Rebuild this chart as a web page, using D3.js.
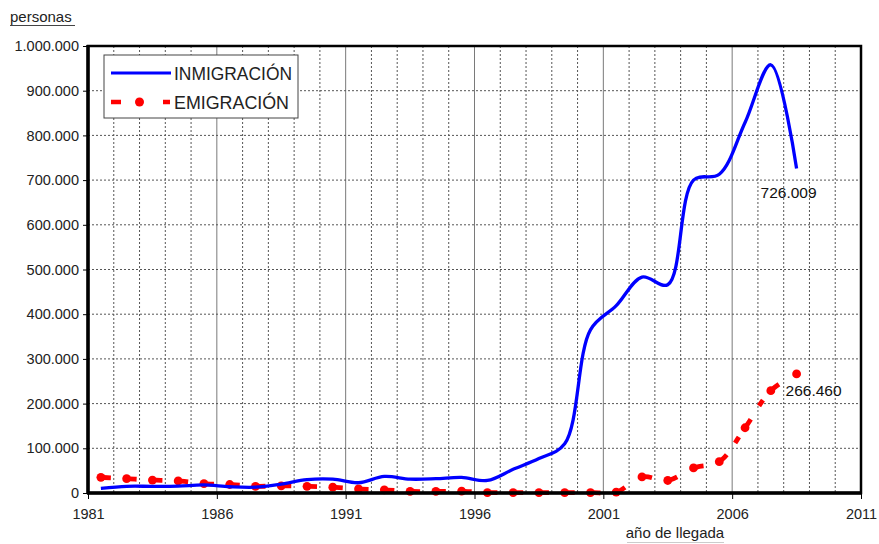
<!DOCTYPE html>
<html><head><meta charset="utf-8">
<script src="https://cdn.jsdelivr.net/npm/d3@7"></script>
<style>
body{margin:0;background:#fff;}
text{font-family:"Liberation Sans",Arial,sans-serif;}
</style>
</head><body>
<svg id="c" width="879" height="544"></svg>
<script>
// ---- data ----
const years = [1981,1982,1983,1984,1985,1986,1987,1988,1989,1990,1991,1992,1993,1994,1995,1996,1997,1998,1999,2000,2001,2002,2003,2004,2005,2006,2007,2008];
const inmigracion = [10500,15000,15000,15500,18000,14000,13000,20000,30000,31000,23000,37000,31000,32000,35000,28000,53000,77000,110000,365000,419000,483000,466000,700000,713000,829000,958000,726009];
const emigracion = [35000,32000,29000,27000,21000,19000,15000,16000,15000,13000,9000,7000,3500,3500,4000,1000,1000,1000,1000,1000,2000,36000,28000,56000,70000,146000,229000,266460];
const yTicks = [0,100000,200000,300000,400000,500000,600000,700000,800000,900000,1000000];
const xTicks = [1981,1986,1991,1996,2001,2006,2011];
const seriesNames = ["INMIGRACIÓN","EMIGRACIÓN"];
const endLabels = ["726.009","266.460"];
const yTitle = "personas";
const xTitle = "año de llegada";

// ---- layout ----
const L=88, R=861, T=46, B=493;
const svg = d3.select("#c");
const x = d3.scaleLinear().domain([1981,2011]).range([L,R]);
const y = d3.scaleLinear().domain([0,1000000]).range([B,T]);
const loc = d3.formatLocale({decimal:",",thousands:".",grouping:[3],currency:["",""]});
const fmt = loc.format(",d");

// grid
const g = svg.append("g");
const allYears = d3.range(1982,2011);
g.selectAll("line.vg").data(allYears).join("line")
  .attr("x1",d=>x(d)).attr("x2",d=>x(d)).attr("y1",T).attr("y2",B)
  .attr("stroke", d=> d%5===1 ? "#7a7a7a" : "#555")
  .attr("stroke-width",1)
  .attr("stroke-dasharray", d=> d%5===1 ? null : "2,2");
g.selectAll("line.hg").data(yTicks.filter(d=>d>0 && d<1000000)).join("line")
  .attr("x1",L).attr("x2",R).attr("y1",d=>y(d)).attr("y2",d=>y(d))
  .attr("stroke","#555").attr("stroke-width",1).attr("stroke-dasharray","2,2");

// series
const pts = years.map((yr,i)=>({x:yr+0.5, a:inmigracion[i], b:emigracion[i]}));
const lineA = d3.line().x(d=>x(d.x)).y(d=>y(d.a)).curve(d3.curveCatmullRom);
const lineB = d3.line().x(d=>x(d.x)).y(d=>y(d.b)).curve(d3.curveCatmullRom);

const redPath = svg.append("path").attr("d",lineB(pts)).attr("fill","none").attr("stroke","#ff0000")
  .attr("stroke-width",4.8);
// dash pattern anchored at each data point: short dash(es) after each marker
const node = redPath.node();
const total = node.getTotalLength();
function lenAtX(px){
  let lo=0, hi=total;
  for(let k=0;k<40;k++){const m=(lo+hi)/2; if(node.getPointAtLength(m).x<px) lo=m; else hi=m;}
  return (lo+hi)/2;
}
const lens = pts.map(d=>lenAtX(x(d.x)));
const step = x(1982)-x(1981);
const gap0=3, dash=7;
const starts=[];
for(let i=0;i<lens.length-1;i++){
  const segL = lens[i+1]-lens[i];
  const n = Math.max(1, Math.round(segL/step));
  for(let k=0;k<n;k++) starts.push(lens[i]+gap0+k*segL/n);
}
const da=[0];
let pos=0;
starts.forEach(s=>{ da.push(Math.max(0,s-pos), dash); pos=s+dash; });
da.push(total);
redPath.attr("stroke-dasharray",da.join(" "));

svg.selectAll("circle.em").data(pts).join("circle")
  .attr("cx",d=>x(d.x)).attr("cy",d=>y(d.b)).attr("r",4.4).attr("fill","#ff0000");
svg.append("path").attr("d",lineA(pts)).attr("fill","none").attr("stroke","#0000ff")
  .attr("stroke-width",3.3).attr("stroke-linejoin","round");

// frame & axes
svg.append("rect").attr("x",L).attr("y",T).attr("width",R-L).attr("height",B-T)
  .attr("fill","none").attr("stroke","#000").attr("stroke-width",2.5);
svg.append("line").attr("x1",L).attr("x2",L).attr("y1",T-1).attr("y2",B+1).attr("stroke","#000").attr("stroke-width",3.5);
svg.append("line").attr("x1",L-1).attr("x2",R+1).attr("y1",B).attr("y2",B).attr("stroke","#000").attr("stroke-width",3.5);

const yAxis = d3.axisLeft(y).tickValues(yTicks).tickFormat(fmt).tickSize(5).tickPadding(4);
const ya = svg.append("g").attr("transform",`translate(${L},0)`).call(yAxis);
ya.select(".domain").remove();
ya.selectAll("line").attr("stroke","#000");
ya.selectAll("text").attr("font-size","14.5px").attr("fill","#222")
  .attr("font-family",'"Liberation Sans",Arial,sans-serif');

const xAxis = d3.axisBottom(x).tickValues(xTicks).tickFormat(d3.format("d")).tickSize(6).tickPadding(10);
const xa = svg.append("g").attr("transform",`translate(0,${B})`).call(xAxis);
xa.select(".domain").remove();
xa.selectAll("line").attr("stroke","#000");
xa.selectAll("text").attr("font-size","14.5px").attr("fill","#222")
  .attr("font-family",'"Liberation Sans",Arial,sans-serif');

// titles
svg.append("text").attr("x",10).attr("y",22).attr("font-size","15px").attr("fill","#222").text(yTitle);
svg.append("line").attr("x1",10).attr("x2",75).attr("y1",25.5).attr("y2",25.5).attr("stroke","#444").attr("stroke-width",1);
svg.append("text").attr("x",675).attr("y",538).attr("text-anchor","middle").attr("font-size","15px").attr("fill","#222").text(xTitle);
svg.append("line").attr("x1",627).attr("x2",724).attr("y1",542.5).attr("y2",542.5).attr("stroke","#ccc").attr("stroke-width",1);

// end labels
const last = pts[pts.length-1];
svg.append("text").attr("x",x(last.x)-36).attr("y",y(last.a)+30).attr("font-size","15.5px").attr("fill","#111").text(endLabels[0]);
svg.append("text").attr("x",x(last.x)-11).attr("y",y(last.b)+22).attr("font-size","15.5px").attr("fill","#111").text(endLabels[1]);

// legend
const lg = svg.append("g");
lg.append("rect").attr("x",104).attr("y",55).attr("width",194).attr("height",63)
  .attr("fill","#fff").attr("stroke","#444").attr("stroke-width",1);
lg.append("line").attr("x1",111).attr("x2",171).attr("y1",73).attr("y2",73).attr("stroke","#0000ff").attr("stroke-width",3);
lg.append("line").attr("x1",111).attr("x2",121).attr("y1",102).attr("y2",102).attr("stroke","#ff0000").attr("stroke-width",4.5);
lg.append("circle").attr("cx",139.5).attr("cy",102).attr("r",4.5).attr("fill","#ff0000");
lg.append("line").attr("x1",163).attr("x2",170).attr("y1",102).attr("y2",102).attr("stroke","#ff0000").attr("stroke-width",4.5);
lg.selectAll("text.lt").data(seriesNames).join("text")
  .attr("x",174).attr("y",(d,i)=>i===0?79.5:109)
  .attr("font-size","19px").attr("fill","#222")
  .attr("textLength",(d,i)=>i===0?118:115).attr("lengthAdjust","spacingAndGlyphs")
  .text(d=>d);
</script>
</body></html>
